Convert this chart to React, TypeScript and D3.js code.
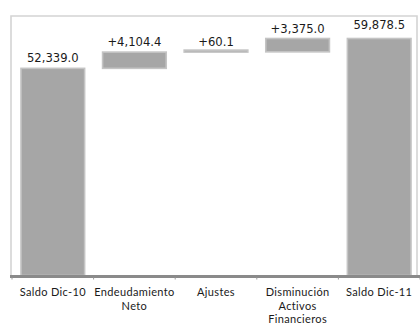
import React from "react";
import * as d3 from "d3";

// Waterfall: opening balance, three movements, closing balance
const categories: string[][] = [
  ["Saldo Dic-10"],
  ["Endeudamiento", "Neto"],
  ["Ajustes"],
  ["Disminución", "Activos", "Financieros"],
  ["Saldo Dic-11"],
];
const kinds = ["total", "delta", "delta", "delta", "total"];
const values = [52339.0, 4104.4, 60.1, 3375.0, 59878.5];
const valueLabels = ["52,339.0", "+4,104.4", "+60.1", "+3,375.0", "59,878.5"];

const W = 420;
const H = 326;

export default function App() {
  const x = d3
    .scaleBand<number>()
    .domain(d3.range(values.length))
    .range([12, 420])
    .paddingInner(0.22)
    .paddingOuter(0.11);

  const axisY = 275.5;
  const y = d3.scaleLinear().domain([0, 65000]).range([axisY, axisY - 65000 * 0.003958]);

  // running start/end per step
  let run = 0;
  const segs = values.map((v, i) => {
    let lo: number, hi: number;
    if (kinds[i] === "total") {
      lo = 0;
      hi = v;
      run = v;
    } else {
      lo = run;
      hi = run + v;
      run = hi;
    }
    return { i, lo, hi };
  });

  const step = x.step();
  const start = x.range()[0];

  return (
    <svg
      width={W}
      height={H}
      style={{ position: "absolute", left: 0, top: 0, background: "#fff" }}
    >
      {/* plot frame */}
      <path d={`M11,${axisY} V16 H417 V${axisY}`} fill="none" stroke="#d4d4d4" strokeWidth={1.6} />

      {segs.map((s) => {
        const yTop = y(s.hi);
        const yBot = y(s.lo);
        const h = Math.max(yBot - yTop, 2);
        return (
          <rect
            key={s.i}
            x={x(s.i)!}
            y={yBot - h}
            width={x.bandwidth()}
            height={h}
            fill="#a6a6a6"
            stroke="#c4c4c4"
            strokeWidth={1.6}
          />
        );
      })}

      {segs.map((s) => (
        <text
          key={"v" + s.i}
          x={x(s.i)! + x.bandwidth() / 2}
          y={y(s.hi) - (s.i === values.length - 1 ? 10 : 6)}
          textAnchor="middle"
          fontFamily="DejaVu Sans"
          fontSize={11.6}
          fill="#1a1a1a"
        >
          {valueLabels[s.i]}
        </text>
      ))}

      {/* category axis */}
      <line x1={10} x2={420} y1={axisY + 1} y2={axisY + 1} stroke="#8a8a8a" strokeWidth={3} />
      {d3.range(values.length + 1).map((k) => (
        <line
          key={"t" + k}
          x1={start + k * step}
          x2={start + k * step}
          y1={axisY + 2}
          y2={axisY + 4}
          stroke="#9a9a9a"
          strokeWidth={1}
        />
      ))}

      {categories.map((lines, i) => (
        <text
          key={"c" + i}
          textAnchor="middle"
          fontFamily="Lato"
          fontSize={11}
          letterSpacing={0.35}
          fill="#1a1a1a"
        >
          {lines.map((ln, j) => (
            <tspan key={j} x={x(i)! + x.bandwidth() / 2} y={296 + j * 13.7}>
              {ln}
            </tspan>
          ))}
        </text>
      ))}
    </svg>
  );
}
